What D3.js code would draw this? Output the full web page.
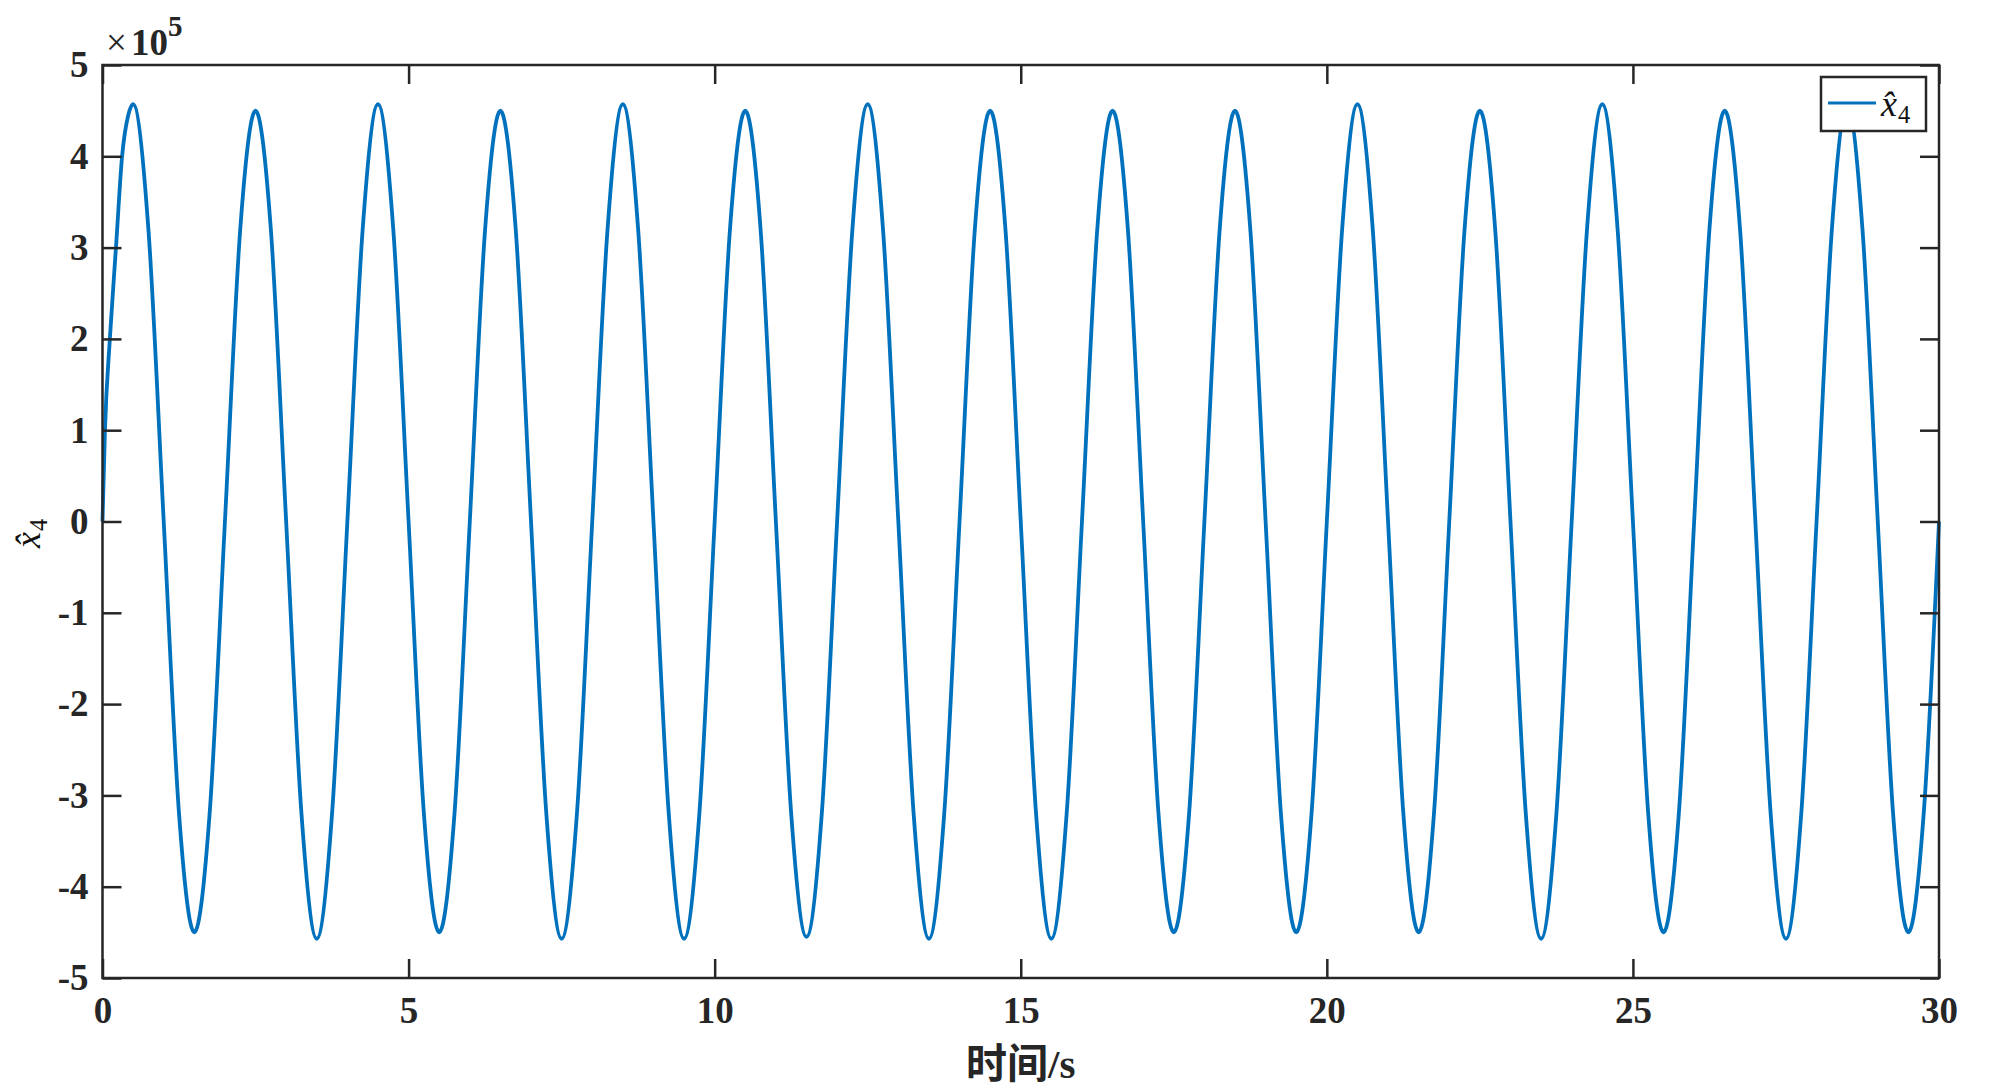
<!DOCTYPE html>
<html>
<head>
<meta charset="utf-8">
<script src="https://cdn.jsdelivr.net/npm/d3@7"></script>
<style>
  html, body { margin: 0; padding: 0; background: #ffffff; }
  svg { display: block; }
</style>
</head>
<body>
<svg id="chart" width="2000" height="1090"></svg>
<script>
// ---- data (values in units of 1e5) ----
const timeS = [
  0, 0.04, 0.12, 0.22, 0.32, 0.42, 0.5, 0.75, 1, 1.25, 1.5, 1.75,
  2, 2.25, 2.5, 2.75, 3, 3.25, 3.5, 3.75,
  4, 4.25, 4.5, 4.75, 5, 5.25, 5.5, 5.75,
  6, 6.25, 6.5, 6.75, 7, 7.25, 7.5, 7.75,
  8, 8.25, 8.5, 8.75, 9, 9.25, 9.5, 9.75,
  10, 10.25, 10.5, 10.75, 11, 11.25, 11.5, 11.75,
  12, 12.25, 12.5, 12.75, 13, 13.25, 13.5, 13.75,
  14, 14.25, 14.5, 14.75, 15, 15.25, 15.5, 15.75,
  16, 16.25, 16.5, 16.75, 17, 17.25, 17.5, 17.75,
  18, 18.25, 18.5, 18.75, 19, 19.25, 19.5, 19.75,
  20, 20.25, 20.5, 20.75, 21, 21.25, 21.5, 21.75,
  22, 22.25, 22.5, 22.75, 23, 23.25, 23.5, 23.75,
  24, 24.25, 24.5, 24.75, 25, 25.25, 25.5, 25.75,
  26, 26.25, 26.5, 26.75, 27, 27.25, 27.5, 27.75,
  28, 28.25, 28.5, 28.75, 29, 29.25, 29.5, 29.75,
  30
];
const x4Hat = [
  0, 1.0, 2.0, 3.0, 4.0, 4.45, 4.57, 3.2, 0, -3.2, -4.5, -3.2,
  0, 3.2, 4.5, 3.2, 0, -3.2, -4.57, -3.2,
  0, 3.2, 4.57, 3.2, 0, -3.2, -4.5, -3.2,
  0, 3.2, 4.5, 3.2, 0, -3.2, -4.57, -3.2,
  0, 3.2, 4.57, 3.2, 0, -3.2, -4.57, -3.2,
  0, 3.2, 4.5, 3.2, 0, -3.2, -4.55, -3.2,
  0, 3.2, 4.57, 3.2, 0, -3.2, -4.57, -3.2,
  0, 3.2, 4.5, 3.2, 0, -3.2, -4.57, -3.2,
  0, 3.2, 4.5, 3.2, 0, -3.2, -4.5, -3.2,
  0, 3.2, 4.5, 3.2, 0, -3.2, -4.5, -3.2,
  0, 3.2, 4.57, 3.2, 0, -3.2, -4.5, -3.2,
  0, 3.2, 4.5, 3.2, 0, -3.2, -4.57, -3.2,
  0, 3.2, 4.57, 3.2, 0, -3.2, -4.5, -3.2,
  0, 3.2, 4.5, 3.2, 0, -3.2, -4.57, -3.2,
  0, 3.2, 4.57, 3.2, 0, -3.2, -4.5, -3.2,
  0
];
const xTicks = [0, 5, 10, 15, 20, 25, 30];
const yTicks = [-5, -4, -3, -2, -1, 0, 1, 2, 3, 4, 5];
const xLabel = "时间/s";
const exponentLabel = "5";

// ---- layout ----
const W = 2000, H = 1090;
const m = { left: 102.5, right: 61, top: 65, bottom: 112 };
const iw = W - m.left - m.right, ih = H - m.top - m.bottom;
const axisColor = "#262626";
const lineColor = "#0072BD";
const tickFont = "'Liberation Serif', 'Times New Roman', serif";

const svg = d3.select("#chart");
const g = svg.append("g").attr("transform", `translate(${m.left},${m.top})`);

const x = d3.scaleLinear().domain([0, 30]).range([0, iw]);
const y = d3.scaleLinear().domain([-5, 5]).range([ih, 0]);

// line
const pts = timeS.map((t, i) => [t, x4Hat[i]]);
const line = d3.line().x(d => x(d[0])).y(d => y(d[1])).curve(d3.curveMonotoneX);
g.append("path").datum(pts)
  .attr("d", line)
  .attr("fill", "none")
  .attr("stroke", lineColor)
  .attr("stroke-width", 3.8)
  .attr("stroke-linejoin", "round");

// axes
function styleAxis(sel, showLabels) {
  sel.selectAll("path.domain").remove();
  sel.selectAll(".tick line").attr("stroke", axisColor).attr("stroke-width", 2.5);
  sel.selectAll(".tick text")
    .attr("fill", axisColor)
    .style("font-family", tickFont)
    .style("font-weight", "bold")
    .style("font-size", "37px");
  if (!showLabels) sel.selectAll(".tick text").remove();
}
const fmt = d => String(d);
g.append("g").attr("transform", `translate(0,${ih})`)
  .call(d3.axisBottom(x).tickValues(xTicks).tickFormat(fmt).tickSizeInner(-19).tickSizeOuter(0).tickPadding(19))
  .call(s => styleAxis(s, true));
g.append("g")
  .call(d3.axisTop(x).tickValues(xTicks).tickFormat(fmt).tickSizeInner(-19).tickSizeOuter(0))
  .call(s => styleAxis(s, false));
g.append("g")
  .call(d3.axisLeft(y).tickValues(yTicks).tickFormat(fmt).tickSizeInner(-19).tickSizeOuter(0).tickPadding(14))
  .call(s => styleAxis(s, true));
g.append("g").attr("transform", `translate(${iw},0)`)
  .call(d3.axisRight(y).tickValues(yTicks).tickFormat(fmt).tickSizeInner(-19).tickSizeOuter(0))
  .call(s => styleAxis(s, false));

// box
g.append("rect").attr("x", 0).attr("y", 0).attr("width", iw).attr("height", ih)
  .attr("fill", "none").attr("stroke", axisColor).attr("stroke-width", 2.5);

// exponent label  ×10^5
const ex = svg.append("text").attr("x", 106).attr("y", 55)
  .attr("fill", axisColor).style("font-family", tickFont).style("font-size", "37px");
ex.append("tspan").style("font-weight", "normal").text("×");
ex.append("tspan").style("font-weight", "bold").attr("dx", 4).text("10");
ex.append("tspan").style("font-weight", "bold").style("font-size", "29px").attr("dy", -19).text(exponentLabel);

// x axis label
const xl = svg.append("text")
  .attr("x", m.left + iw / 2).attr("y", 1078)
  .attr("text-anchor", "middle").attr("fill", axisColor)
  .style("font-size", "41px").style("font-weight", "bold");
xl.append("tspan").style("font-family", "'Noto Sans CJK SC', sans-serif").style("font-weight", "600").text(xLabel.slice(0, 2));
xl.append("tspan").style("font-family", tickFont).text(xLabel.slice(2));

// math label x̂_4 (combining circumflex)
function mathLabel(parent, fs) {
  const t = parent.append("text").attr("x", 0).attr("y", 0).attr("fill", "#111")
    .style("font-family", tickFont).style("font-size", fs + "px");
  t.append("tspan").style("font-style", "italic").text("x\u0302");
  t.append("tspan").style("font-size", (fs * 0.68) + "px").attr("dx", 0.03 * fs).attr("dy", 0.2 * fs).text("4");
  return t;
}
// y label (rotated)
const yl = mathLabel(svg, 36);
yl.attr("transform", "translate(40,548) rotate(-90)");

// legend
const lg = svg.append("g");
lg.append("rect").attr("x", 1821).attr("y", 77).attr("width", 105).attr("height", 54)
  .attr("fill", "#ffffff").attr("stroke", axisColor).attr("stroke-width", 2.5);
lg.append("line").attr("x1", 1828).attr("x2", 1876).attr("y1", 103).attr("y2", 103)
  .attr("stroke", lineColor).attr("stroke-width", 3.2);
const ll = mathLabel(lg, 36);
ll.attr("transform", "translate(1881,116)");
</script>
</body>
</html>
